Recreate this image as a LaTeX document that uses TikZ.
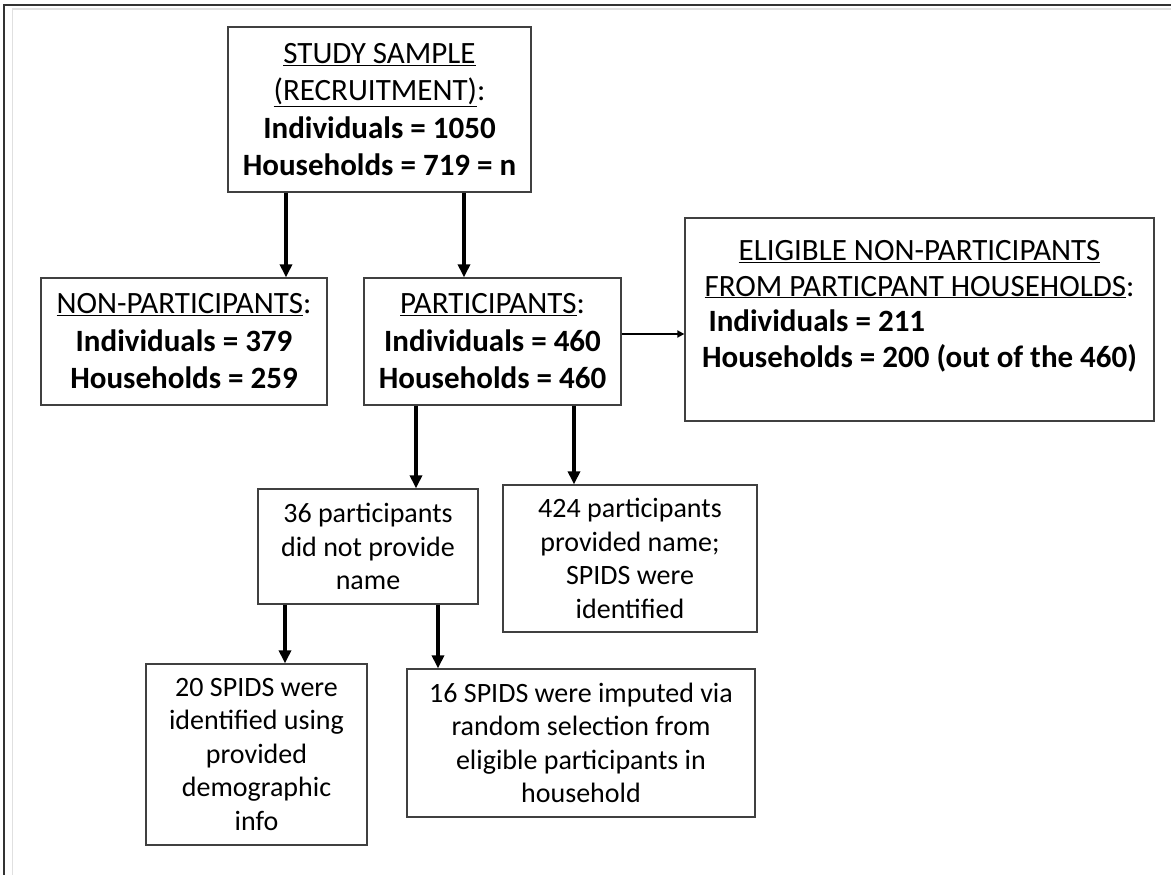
\documentclass[tikz,border=0pt]{standalone}
\usepackage{fontspec}
\setmainfont{Carlito}
\usetikzlibrary{arrows.meta}
\begin{document}
\begin{tikzpicture}[x=1pt,y=-1pt,
  box/.style={draw=black!75,line width=1.3pt,inner sep=0pt,align=center,
    font=\fontsize{28}{33.5}\selectfont},
  topbox/.style={box,font=\fontsize{31}{37.5}\selectfont},
  flow/.style={-{Triangle[width=12pt,length=13pt]},line width=3.6pt},
  side/.style={-{Triangle[width=7pt,length=7pt]},line width=1.8pt}]
\useasboundingbox (0,0) rectangle (1171,875);
% page frame
\draw[black!80,line width=2pt] (4,875) -- (4,5) -- (1171,5);
\draw[black!12,line width=1.5pt] (12.5,875) -- (12.5,9) -- (1171,9);

\node[topbox,minimum width=303,minimum height=165] (study) at (379.5,109.5)
  {\underline{STUDY SAMPLE}\\ \underline{(RECRUITMENT)}:\\
   \textbf{Individuals = 1050}\\ \textbf{Households = 719 = n}};
\node[topbox,minimum width=286,minimum height=127] (nonpart) at (184,341.5)
  {\underline{NON-PARTICIPANTS}:\\ \textbf{Individuals = 379}\\ \textbf{Households = 259}};
\node[topbox,minimum width=257,minimum height=127] (part) at (492.5,341.5)
  {\underline{PARTICIPANTS}:\\ \textbf{Individuals = 460}\\ \textbf{Households = 460}};
\node[topbox,font=\fontsize{31}{35.5}\selectfont,
  minimum width=469,minimum height=203] (elig) at (919.5,319.5)
  {\underline{ELIGIBLE NON-PARTICIPANTS}\\ \underline{FROM PARTICPANT HOUSEHOLDS}:\\
   \makebox[438pt][l]{\hspace{8pt}\textbf{Individuals = 211}}\\
   \textbf{Households = 200 (out of the 460)}\\[-4pt]~};
\node[box,minimum width=220,minimum height=115] (noname) at (368,546.5)
  {36 participants\\ did not provide\\ name};
\node[box,minimum width=254,minimum height=147] (named) at (630,558.5)
  {424 participants\\ provided name;\\ SPIDS were\\ identified};
\node[box,minimum width=221,minimum height=181] (demo) at (256.5,754.5)
  {20 SPIDS were\\ identified using\\ provided\\ demographic\\ info};
\node[box,minimum width=348,minimum height=148] (imput) at (581,743)
  {16 SPIDS were imputed via\\ random selection from\\ eligible participants in\\ household};

\draw[flow] ([xshift=-93.5pt]study.south) -- ([xshift=102pt]nonpart.north);
\draw[flow] ([xshift=84.5pt]study.south) -- ([xshift=-28.5pt]part.north);
\draw[side] ([yshift=7.5pt]part.east) -- ([yshift=-14.5pt]elig.west);
\draw[flow] ([xshift=-76.5pt]part.south) -- ([xshift=48pt]noname.north);
\draw[flow] ([xshift=81.5pt]part.south) -- ([xshift=-56pt]named.north);
\draw[flow] ([xshift=-83pt]noname.south) -- ([xshift=28.5pt]demo.north);
\draw[flow] ([xshift=70pt]noname.south) -- ([xshift=-143pt]imput.north);
\end{tikzpicture}
\end{document}
